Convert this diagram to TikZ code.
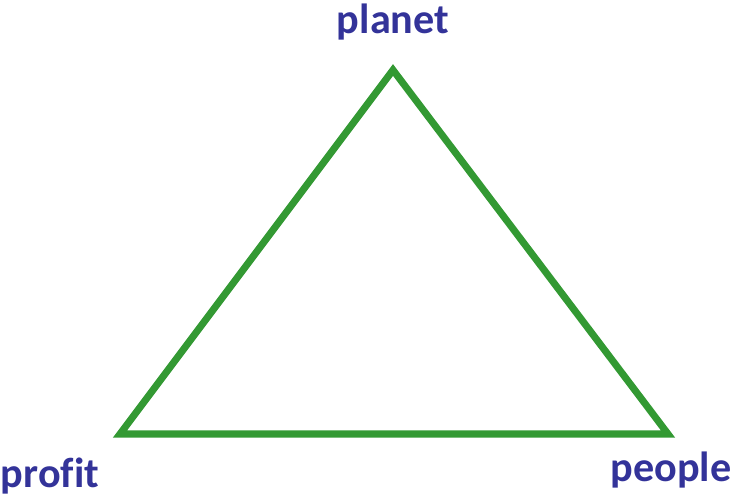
\documentclass[tikz,border=0pt]{standalone}
\usepackage{fontspec}
\setmainfont[Ligatures=CommonOff]{Carlito}
\usetikzlibrary{positioning}

\definecolor{tbllinegreen}{RGB}{51,153,51}
\definecolor{tbltextblue}{RGB}{51,51,153}

\begin{document}
\begin{tikzpicture}[x=0.03cm, y=-0.03cm, line join=miter,
    corner/.style={font=\bfseries\fontsize{36}{40}\selectfont, text=tbltextblue, inner sep=0pt}]
          \useasboundingbox (0,0) rectangle (731,497);
          \coordinate (top) at (393,70);
          \coordinate (left) at (120,434);
          \coordinate (right) at (668,434);
          \node[corner] (planet) at (393,22) {planet};
          \node[corner] (profit) at (50,476) {profit};
          \node[corner] (people) at (671,470) {people};
          \draw[tbllinegreen, line width=6pt] (top) -- (right) -- (left) -- cycle;
      \end{tikzpicture}
\end{document}
